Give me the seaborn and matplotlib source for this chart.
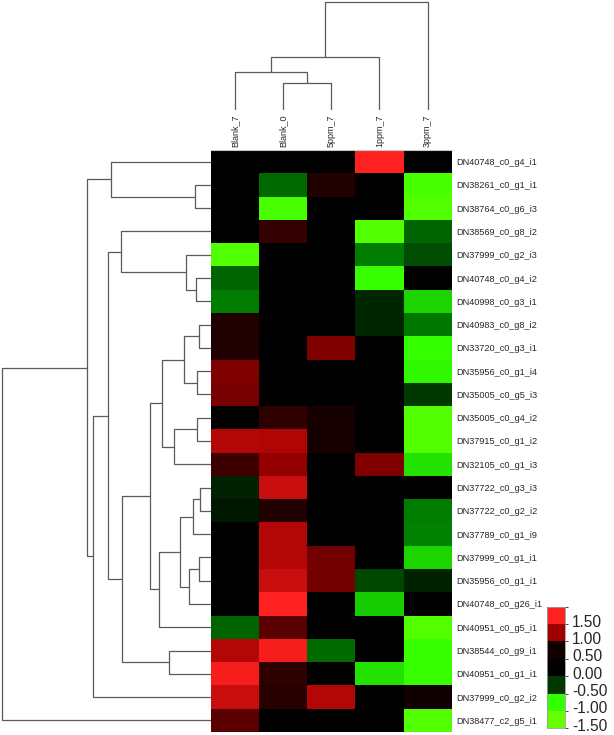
import numpy as np
import pandas as pd
import matplotlib
matplotlib.use("Agg")
import matplotlib.pyplot as plt
import seaborn as sns
from matplotlib.colors import LinearSegmentedColormap, ListedColormap, BoundaryNorm
from matplotlib.cm import ScalarMappable

# ---------------- data ----------------
samples = ["Blank_7", "Blank_0", "5ppm_7", "1ppm_7", "3ppm_7"]
genes = [
    "DN40748_c0_g4_i1", "DN38261_c0_g1_i1", "DN38764_c0_g6_i3", "DN38569_c0_g8_i2",
    "DN37999_c0_g2_i3", "DN40748_c0_g4_i2", "DN40998_c0_g3_i1", "DN40983_c0_g8_i2",
    "DN33720_c0_g3_i1", "DN35956_c0_g1_i4", "DN35005_c0_g5_i3", "DN35005_c0_g4_i2",
    "DN37915_c0_g1_i2", "DN32105_c0_g1_i3", "DN37722_c0_g3_i3", "DN37722_c0_g2_i2",
    "DN37789_c0_g1_i9", "DN37999_c0_g1_i1", "DN35956_c0_g1_i1", "DN40748_c0_g26_i1",
    "DN40951_c0_g5_i1", "DN38544_c0_g9_i1", "DN40951_c0_g1_i1", "DN37999_c0_g2_i2",
    "DN38477_c2_g5_i1",
]
blank_7 = [0.0, 0.0, 0.0, 0.0, -1.3, -0.6, -0.66, 0.56, 0.55, 0.88, 0.86, 0.0, 1.1,
           0.65, -0.3, -0.2, 0.0, 0.0, 0.0, 0.0, -0.6, 1.1, 1.45, 1.2, 0.75]
blank_0 = [0.0, -0.62, -1.2, 0.62, 0.0, 0.0, 0.0, 0.0, 0.0, 0.0, 0.0, 0.6, 1.07,
           0.95, 1.2, 0.56, 1.1, 1.1, 1.2, 1.5, 0.75, 1.45, 0.6, 0.58, 0.0]
ppm5_7 = [0.0, 0.56, 0.0, 0.0, 0.0, 0.0, 0.0, 0.0, 0.88, 0.0, 0.0, 0.52, 0.52,
          0.0, 0.0, 0.0, 0.0, 0.84, 0.84, 0.0, 0.0, -0.62, 0.0, 1.1, 0.0]
ppm1_7 = [1.5, 0.0, 0.0, -1.3, -0.66, -1.05, -0.33, -0.33, 0.0, 0.0, 0.0, 0.0, 0.0,
          0.88, 0.0, 0.0, 0.0, 0.0, -0.53, -0.86, 0.0, 0.0, -0.92, 0.0, 0.0]
ppm3_7 = [0.0, -1.2, -1.3, -0.6, -0.55, 0.0, -0.88, -0.65, -1.0, -0.98, -0.5, -1.3,
          -1.3, -0.92, 0.0, -0.66, -0.67, -0.88, -0.3, 0.0, -1.3, -1.05, -1.05, 0.5, -1.3]

# row tree (linkage-style): leaves 0..24 in display order, new nodes numbered from 25
row_left = [1, 5, 4, 3, 7, 9, 29, 11, 32, 31, 14, 35, 17, 37, 36, 39, 34, 21, 41, 28, 44, 0, 46, 47]
row_right = [2, 6, 26, 27, 8, 10, 30, 12, 13, 33, 15, 16, 18, 19, 38, 20, 40, 22, 42, 43, 23, 25, 45, 24]
row_height = [16, 14.3, 24.3, 89.7, 12, 13.7, 26.7, 13.7, 36.7, 48.3, 11, 17.7, 12, 22,
              30.7, 51.7, 60.3, 41.7, 89, 102.3, 118, 100, 124, 209]
# column tree: leaves 0..4, new nodes from 5
col_left = [1, 0, 6, 7]
col_right = [2, 5, 3, 4]
col_height = [27.3, 37.7, 53.3, 108.3]

legend_values = [-1.5, -1.0, -0.5, 0.0, 0.5, 1.0, 1.5]

df = pd.DataFrame({"Blank_7": blank_7, "Blank_0": blank_0, "5ppm_7": ppm5_7,
                   "1ppm_7": ppm1_7, "3ppm_7": ppm3_7}, index=genes)[samples]

# ---------------- style ----------------
sns.set_style("white")
plt.rcParams["font.family"] = ["Liberation Sans", "DejaVu Sans"]
plt.rcParams["axes.unicode_minus"] = False

vmin, vmax = -1.5, 1.5
nodes = [(-1.5, "#66ff00"), (-1.0, "#33ff00"), (-0.75, "#00a000"), (-0.5, "#003800"),
         (0.0, "#000000"), (0.5, "#100000"), (1.0, "#a00000"), (1.5, "#ff2020")]
cmap = LinearSegmentedColormap.from_list(
    "gbr", [((v - vmin) / (vmax - vmin), c) for v, c in nodes])

W, H = 614, 735
fig = plt.figure(figsize=(W / 100, H / 100), dpi=100)

def fx(px):
    return px / W

def fy(px):
    return px / H

hm_l, hm_r, hm_t, hm_b = 210.7, 451.7, 150.0, 732.0
ax_hm = fig.add_axes([fx(hm_l), fy(H - hm_b), fx(hm_r - hm_l), fy(hm_b - hm_t)])
ax_rd = fig.add_axes([0, fy(H - hm_b), fx(hm_l), fy(hm_b - hm_t)])
ax_cd = fig.add_axes([fx(hm_l), fy(H - 110), fx(hm_r - hm_l), fy(110)])
ax_cb = fig.add_axes([fx(547.3), fy(H - 728.3), fx(17.7), fy(121.6)])

sns.heatmap(df, ax=ax_hm, cmap=cmap, vmin=vmin, vmax=vmax, cbar=False,
            xticklabels=True, yticklabels=True, linewidths=0)
ax_hm.xaxis.tick_top()
ax_hm.yaxis.tick_right()
ax_hm.tick_params(axis="x", length=0, pad=2, labelsize=6.5, labelrotation=90)
ax_hm.tick_params(axis="y", length=0, pad=3.5, labelsize=6.6, labelrotation=0)
for t in ax_hm.get_xticklabels():
    t.set_va("bottom")
ax_hm.set_xlabel("")
ax_hm.set_ylabel("")
ax_hm.spines["top"].set_visible(True)
ax_hm.spines["top"].set_color("#c8c8c8")
ax_hm.spines["top"].set_linewidth(0.8)

line_kw = dict(color="#555b61", lw=0.9, solid_capstyle="butt")

def draw_dendro(ax, n_leaves, left, right, height, orient):
    pos = {i: i + 0.5 for i in range(n_leaves)}
    hgt = {i: 0.0 for i in range(n_leaves)}
    for k, (a, b, h) in enumerate(zip(left, right, height)):
        node = n_leaves + k
        pa, pb, ha, hb = pos[a], pos[b], hgt[a], hgt[b]
        xs = [ha, h, h, hb]
        ps = [pa, pa, pb, pb]
        if orient == "row":
            ax.plot(xs, ps, **line_kw)
        else:
            ax.plot(ps, xs, **line_kw)
        pos[node] = (pa + pb) / 2
        hgt[node] = h

draw_dendro(ax_rd, len(genes), row_left, row_right, row_height, "row")
ax_rd.set_ylim(len(genes), 0)
ax_rd.set_xlim(hm_l, 0)
ax_rd.axis("off")

draw_dendro(ax_cd, len(samples), col_left, col_right, col_height, "col")
ax_cd.set_xlim(0, len(samples))
ax_cd.set_ylim(0, 110)
ax_cd.axis("off")

# legend colour bar: each block coloured by the value written under it
legend_colors = [cmap((v - vmin) / (vmax - vmin)) for v in legend_values]
step = legend_values[1] - legend_values[0]
bounds = legend_values + [legend_values[-1] + step]
lcmap = ListedColormap(legend_colors)
bnorm = BoundaryNorm(bounds, lcmap.N)
cb = fig.colorbar(ScalarMappable(norm=bnorm, cmap=lcmap), cax=ax_cb, spacing="uniform")
cb.set_ticks([v + step * 0.2 for v in legend_values])
cb.ax.set_yticklabels([f"{v:.2f}" for v in legend_values])
cb.ax.tick_params(length=0, pad=5, labelsize=11.2)
cb.outline.set_linewidth(0.6)
cb.outline.set_edgecolor("#9a9a9a")

fig.savefig("out.png", dpi=100)
